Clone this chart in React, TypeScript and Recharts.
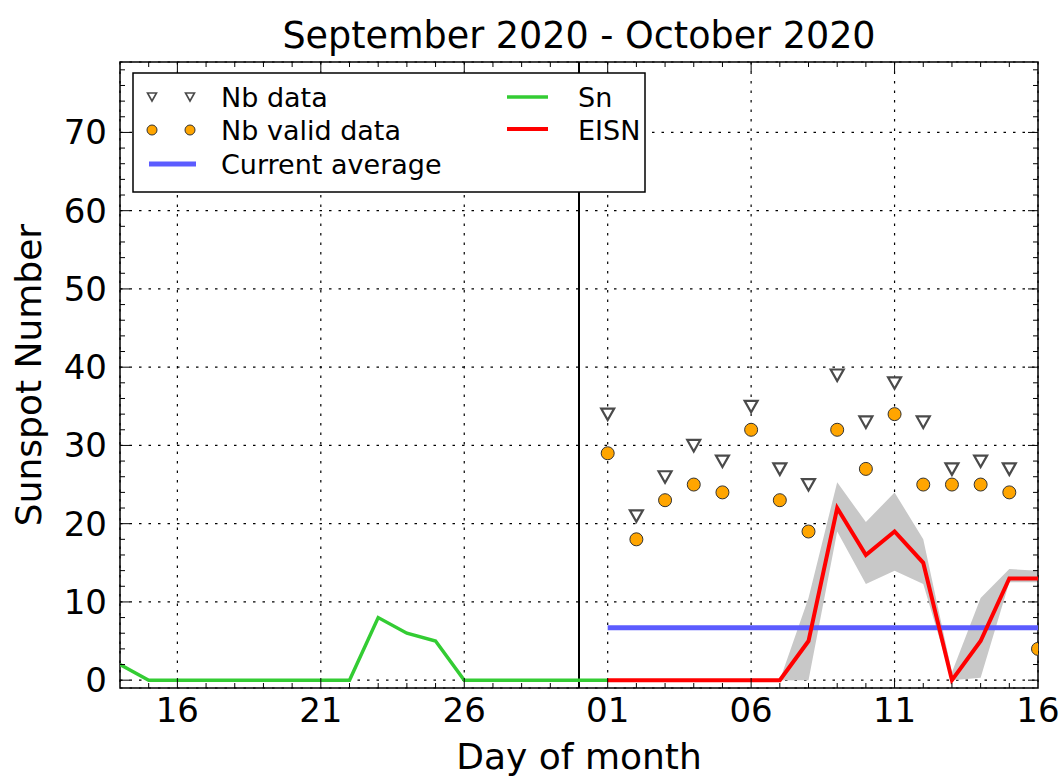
import React from 'react';
import {
  ComposedChart,
  Line,
  Area,
  Scatter,
  XAxis,
  YAxis,
  CartesianGrid,
  ReferenceLine,
  ReferenceArea,
} from 'recharts';

// ---------- data ----------
const TITLE = 'September 2020 - October 2020';
const X_LABEL = 'Day of month';
const Y_LABEL = 'Sunspot Number';

const X_DOMAIN: [number, number] = [14, 46]; // day count from 31 Aug (Sep 14 .. Oct 16)
const Y_DOMAIN: [number, number] = [-1, 79];
const X_TICKS = [16, 21, 26, 31, 36, 41, 46];
const X_TICK_LABELS = ['16', '21', '26', '01', '06', '11', '16'];
const Y_TICKS = [0, 10, 20, 30, 40, 50, 60, 70];
const X_MINOR_STEP = 1;
const Y_MINOR_STEP = 2;

const SN_DAYS = [14, 15, 16, 17, 18, 19, 20, 21, 22, 23, 24, 25, 26, 27, 28, 29, 30, 31];
const SN_VALUES = [2, 0, 0, 0, 0, 0, 0, 0, 0, 8, 6, 5, 0, 0, 0, 0, 0, 0];

const OCT_DAYS = [31, 32, 33, 34, 35, 36, 37, 38, 39, 40, 41, 42, 43, 44, 45, 46];
const EISN_VALUES = [0, 0, 0, 0, 0, 0, 0, 5, 22, 16, 19, 15, 0, 5, 13, 13];
const EISN_LOW = [0, 0, 0, 0, 0, 0, 0, 0, 19, 12.3, 14, 12.3, 0, 0.3, 12.5, 12.5];
const EISN_HIGH = [0, 0, 0, 0, 0, 0, 0, 10.5, 25.3, 20.2, 24, 18, 1, 10.5, 14.2, 14];

const NB_DAYS = [31, 32, 33, 34, 35, 36, 37, 38, 39, 40, 41, 42, 43, 44, 45];
const NB_VALUES = [34, 21, 26, 30, 28, 35, 27, 25, 39, 33, 38, 33, 27, 28, 27];

const NB_VALID_DAYS = [31, 32, 33, 34, 35, 36, 37, 38, 39, 40, 41, 42, 43, 44, 45, 46];
const NB_VALID_VALUES = [29, 18, 23, 25, 24, 32, 23, 19, 32, 27, 34, 25, 25, 25, 24, 4];

const AVG_DAYS = [31, 46];
const AVG_VALUE = 6.7;

const MONTH_BOUNDARY = 30;

// ---------- derived series ----------
const snData = SN_DAYS.map((x, i) => ({ x, y: SN_VALUES[i] }));
const eisnData = OCT_DAYS.map((x, i) => ({ x, y: EISN_VALUES[i] }));
const bandData = OCT_DAYS.map((x, i) => ({ x, range: [EISN_LOW[i], EISN_HIGH[i]] }));
const nbData = NB_DAYS.map((x, i) => ({ x, y: NB_VALUES[i] }));
const nbValidData = NB_VALID_DAYS.map((x, i) => ({ x, y: NB_VALID_VALUES[i] }));
const avgData = AVG_DAYS.map((x) => ({ x, y: AVG_VALUE }));

// ---------- layout ----------
const W = 1060;
const H = 776;
const PLOT_LEFT = 120;
const PLOT_RIGHT = 1038;
const PLOT_TOP = 62;
const PLOT_BOTTOM = 688;
const YAXIS_W = 60;
const XAXIS_H = 50;
const FONT = '"DejaVu Sans", sans-serif';

const xPerPx = (X_DOMAIN[1] - X_DOMAIN[0]) / (PLOT_RIGHT - PLOT_LEFT);
const yPerPx = (Y_DOMAIN[1] - Y_DOMAIN[0]) / (PLOT_BOTTOM - PLOT_TOP);
const MAJOR_LEN = 10;
const MINOR_LEN = 5;

type Seg = { key: string; segment: { x: number; y: number }[] };
const tickSegments: Seg[] = [];
for (let d = X_DOMAIN[0] + X_MINOR_STEP; d < X_DOMAIN[1]; d += X_MINOR_STEP) {
  const len = (X_TICKS.includes(d) ? MAJOR_LEN : MINOR_LEN) * yPerPx;
  tickSegments.push({ key: `xb${d}`, segment: [{ x: d, y: Y_DOMAIN[0] }, { x: d, y: Y_DOMAIN[0] + len }] });
  tickSegments.push({ key: `xt${d}`, segment: [{ x: d, y: Y_DOMAIN[1] }, { x: d, y: Y_DOMAIN[1] - len }] });
}
for (let v = 0; v < Y_DOMAIN[1]; v += Y_MINOR_STEP) {
  const len = (Y_TICKS.includes(v) ? MAJOR_LEN : MINOR_LEN) * xPerPx;
  tickSegments.push({ key: `yl${v}`, segment: [{ x: X_DOMAIN[0], y: v }, { x: X_DOMAIN[0] + len, y: v }] });
  tickSegments.push({ key: `yr${v}`, segment: [{ x: X_DOMAIN[1], y: v }, { x: X_DOMAIN[1] - len, y: v }] });
}

const TriangleDown = (props: any) => {
  const { cx, cy } = props;
  if (cx == null || cy == null) return null;
  const w = 6.5;
  return (
    <polygon
      points={`${cx - w},${cy - 5.5} ${cx + w},${cy - 5.5} ${cx},${cy + 6}`}
      fill="#ffffff"
      stroke="#4a4a4a"
      strokeWidth={2.2}
    />
  );
};

const OrangeDot = (props: any) => {
  const { cx, cy } = props;
  if (cx == null || cy == null) return null;
  return <circle cx={cx} cy={cy} r={6.5} fill="#FFA500" stroke="#333" strokeWidth={1} />;
};

const xTickFmt = (v: number) => {
  const i = X_TICKS.indexOf(v);
  return i >= 0 ? X_TICK_LABELS[i] : String(v);
};

export default function App() {
  return (
    <div style={{ position: 'absolute', left: 0, top: 0, width: W, height: H, background: '#fff', fontFamily: FONT }}>
      <ComposedChart
        width={W}
        height={H}
        margin={{ top: PLOT_TOP, right: W - PLOT_RIGHT, bottom: H - PLOT_BOTTOM - XAXIS_H, left: PLOT_LEFT - YAXIS_W }}
      >
        <CartesianGrid stroke="#000" strokeWidth={1.2} strokeDasharray="2.5 7" />
        <XAxis
          type="number"
          dataKey="x"
          domain={X_DOMAIN}
          ticks={X_TICKS}
          tickFormatter={xTickFmt}
          allowDataOverflow
          height={XAXIS_H}
          axisLine={false}
          tickLine={false}
          tickSize={0}
          tickMargin={10}
          tick={{ fill: '#000', fontSize: 34, fontFamily: FONT }}
          interval={0}
        />
        <YAxis
          type="number"
          dataKey="y"
          domain={Y_DOMAIN}
          ticks={Y_TICKS}
          allowDataOverflow
          width={YAXIS_W}
          axisLine={false}
          tickLine={false}
          tickSize={0}
          tickMargin={13}
          tick={{ fill: '#000', fontSize: 34, fontFamily: FONT }}
          interval={0}
        />
        <Area
          data={bandData}
          dataKey="range"
          type="linear"
          stroke="none"
          fill="#c8c8c8"
          fillOpacity={1}
          isAnimationActive={false}
          dot={false}
          activeDot={false}
        />
        <ReferenceLine x={MONTH_BOUNDARY} stroke="#000" strokeWidth={2} />
        <Line data={avgData} dataKey="y" type="linear" stroke="#5c5cff" strokeWidth={5} dot={false} activeDot={false} isAnimationActive={false} />
        <Line data={snData} dataKey="y" type="linear" stroke="#33cc33" strokeWidth={3.5} dot={false} activeDot={false} isAnimationActive={false} />
        <Line data={eisnData} dataKey="y" type="linear" stroke="#ff0000" strokeWidth={4} dot={false} activeDot={false} isAnimationActive={false} />
        <Scatter data={nbData} dataKey="y" shape={TriangleDown} isAnimationActive={false} />
        <Scatter data={nbValidData} dataKey="y" shape={OrangeDot} isAnimationActive={false} />
        {tickSegments.map((s) => (
          <ReferenceLine key={s.key} segment={s.segment} stroke="#000" strokeWidth={1} />
        ))}
        <ReferenceArea
          x1={X_DOMAIN[0]}
          x2={X_DOMAIN[1]}
          y1={Y_DOMAIN[0]}
          y2={Y_DOMAIN[1]}
          fill="none"
          fillOpacity={0}
          stroke="#000"
          strokeWidth={1.5}
        />
      </ComposedChart>
      <svg width={W} height={H} style={{ position: 'absolute', left: 0, top: 0, pointerEvents: 'none' }} fontFamily={FONT}>
        <text x={(PLOT_LEFT + PLOT_RIGHT) / 2} y={48} textAnchor="middle" fontSize={36.5} fill="#000">{TITLE}</text>
        <text x={(PLOT_LEFT + PLOT_RIGHT) / 2} y={769} textAnchor="middle" fontSize={36} fill="#000">{X_LABEL}</text>
        <text
          x={0}
          y={0}
          transform={`translate(41, ${(PLOT_TOP + PLOT_BOTTOM) / 2}) rotate(-90)`}
          textAnchor="middle"
          fontSize={36}
          fill="#000"
        >
          {Y_LABEL}
        </text>
        {/* legend */}
        <rect x={133} y={73} width={512} height={119} fill="#fff" stroke="#000" strokeWidth={1.5} />
        <polygon points="147.5,93 156.5,93 152,101" fill="#fff" stroke="#4a4a4a" strokeWidth={1.6} />
        <polygon points="185.5,93 194.5,93 190,101" fill="#fff" stroke="#4a4a4a" strokeWidth={1.6} />
        <text x={221} y={107} fontSize={27} fill="#000">Nb data</text>
        <circle cx={152} cy={130} r={5} fill="#FFA500" stroke="#333" strokeWidth={1} />
        <circle cx={190} cy={130} r={5} fill="#FFA500" stroke="#333" strokeWidth={1} />
        <text x={221} y={140} fontSize={27} fill="#000">Nb valid data</text>
        <line x1={149} x2={196} y1={164} y2={164} stroke="#5c5cff" strokeWidth={5} />
        <text x={221} y={174} fontSize={27} fill="#000">Current average</text>
        <line x1={507} x2={548} y1={97} y2={97} stroke="#33cc33" strokeWidth={3.5} />
        <text x={578} y={107} fontSize={27} fill="#000">Sn</text>
        <line x1={507} x2={548} y1={129} y2={129} stroke="#ff0000" strokeWidth={4} />
        <text x={578} y={140} fontSize={27} fill="#000">EISN</text>
      </svg>
    </div>
  );
}
